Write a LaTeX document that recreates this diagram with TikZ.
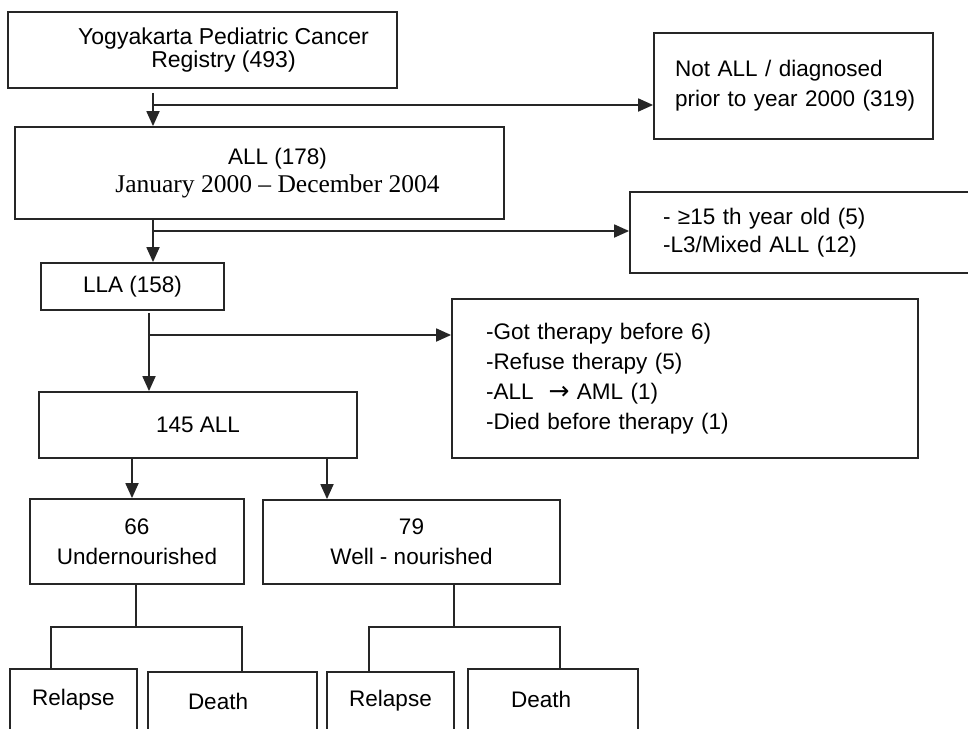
\documentclass[tikz,border=0pt]{standalone}
\usepackage{fontspec}
\setmainfont{Liberation Sans}
\newfontfamily\timesfont{Liberation Serif}
\newfontfamily\arrowfont{DejaVu Sans}
\usetikzlibrary{arrows.meta}

\begin{document}
\begin{tikzpicture}[x=1pt,y=-1pt,
  box/.style={draw=black!85,line width=1.8pt,inner sep=0pt,align=center,font=\fontsize{22.5}{30}\selectfont},
  leftbox/.style={box,align=left},
  arr/.style={draw=black!85,line width=1.8pt,-{Triangle[length=15pt,width=13pt]}},
  link/.style={draw=black!85,line width=1.8pt}]
\useasboundingbox (0,0) rectangle (968,728);
\clip (0,0) rectangle (968,728);
\node[box,minimum width=389,minimum height=76,font=\fontsize{23}{23.5}\selectfont] (reg) at (202.5,50) {\hspace*{42pt}Yogyakarta Pediatric Cancer\\\hspace*{42pt}Registry (493)};
\node[leftbox,text width=257,inner xsep=11,minimum height=106] (notall) at (793.5,86) {\hspace*{10pt}Not ALL / diagnosed\\\hspace*{10pt}prior to year 2000 (319)};
\node[box,minimum width=489,minimum height=92,font=\fontsize{22.5}{28}\selectfont] (all) at (259.5,173) {\hspace*{36pt}ALL (178)\\{\timesfont\fontsize{25.5}{28}\selectfont\hspace*{36pt}January 2000 – December 2004}};
\node[leftbox,text width=304,inner xsep=33,minimum height=81,font=\fontsize{22.5}{28}\selectfont] (excl) at (815,232.5) {- ≥15 th year old (5)\\-L3/Mixed ALL (12)};
\node[box,minimum width=183,minimum height=47] (lla) at (132.5,286.5) {LLA (158)};
\node[leftbox,text width=398,inner xsep=34,minimum height=159] (ther) at (685,378.5) {-Got therapy before 6)\\-Refuse therapy (5)\\-ALL~ {\arrowfont\fontsize{25}{30}\selectfont →} AML (1)\\-Died before therapy (1)};
\node[box,minimum width=318,minimum height=66] (tot) at (198,425) {145 ALL};
\node[box,minimum width=214,minimum height=85] (under) at (137,541.5) {66\\Undernourished};
\node[box,minimum width=297,minimum height=84] (well) at (411.5,542) {79\\Well - nourished};
\node[box,minimum width=127,minimum height=61] (rel1) at (73.5,699.5) {Relapse};
\node[leftbox,text width=89,inner xsep=40,minimum height=58] (death1) at (232.5,701) {Death};
\node[box,minimum width=127,minimum height=58] (rel2) at (390.5,701) {Relapse};
\node[leftbox,text width=84,inner xsep=43,minimum height=61] (death2) at (553,699.5) {Death};

\coordinate (b1) at (153,105);
\coordinate (b2) at (153,231);
\coordinate (b3) at (149,335);
\draw[arr,shorten <=4pt] (reg.south -| b1) -- (all.north -| b1);
\draw[arr] (b1) -- (notall.west |- b1);
\draw[arr] (all.south -| b2) -- (lla.north -| b2);
\draw[arr] (b2) -- (excl.west |- b2);
\draw[arr,shorten <=2pt] (lla.south -| b3) -- (tot.north -| b3);
\draw[arr] (b3) -- (ther.west |- b3);
\draw[arr] (tot.south -| 132,0) -- (under.north -| 132,0);
\draw[arr] (tot.south -| 327,0) -- (well.north -| 327,0);

\coordinate (j1) at (136,627);
\coordinate (j2) at (454,627);
\draw[link] (under.south -| j1) -- (j1);
\draw[link] (rel1.north -| 51,0) |- (j1) -| (death1.north -| 242,0);
\draw[link] (well.south -| j2) -- (j2);
\draw[link] (rel2.north -| 369,0) |- (j2) -| (death2.north -| 560,0);
\end{tikzpicture}
\end{document}
